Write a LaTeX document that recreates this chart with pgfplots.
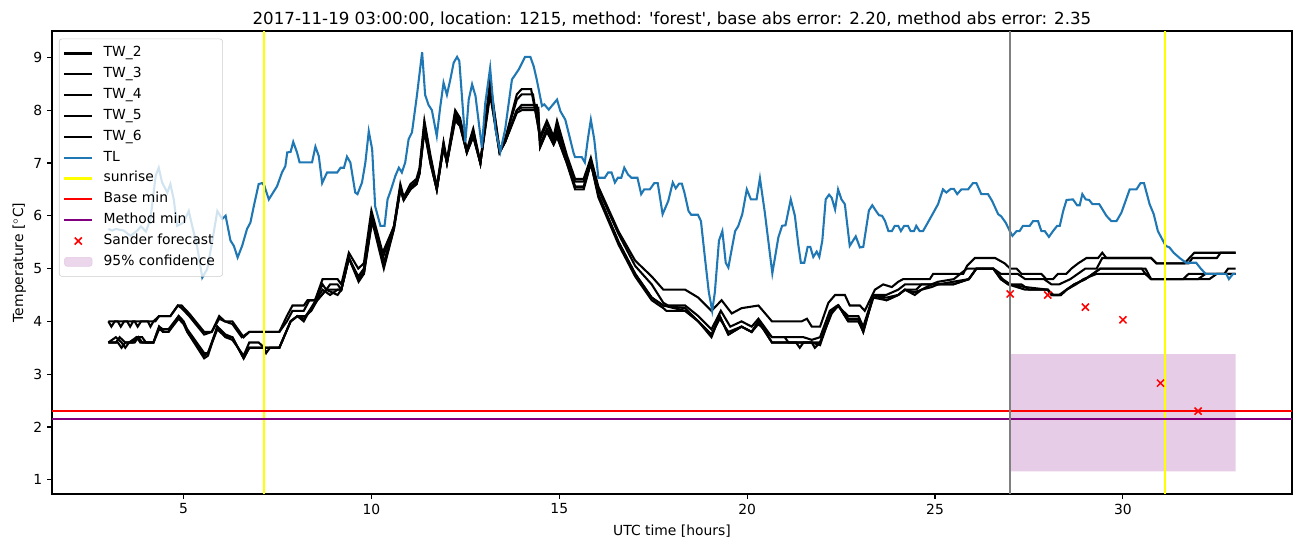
\documentclass[border=0pt]{standalone}
\usepackage{pgfplots}
\pgfplotsset{compat=1.18}
\usepackage{fontspec}
\setmainfont{DejaVu Sans}
\newfontfamily\djv{DejaVu Sans}
\definecolor{tlblue}{RGB}{31,119,180}
\definecolor{mplpurple}{RGB}{128,0,128}
\definecolor{mplgrey}{RGB}{128,128,128}
\definecolor{mplyellow}{RGB}{255,255,0}
\definecolor{confcol}{RGB}{230,204,230}
\definecolor{legframe}{RGB}{204,204,204}
\pgfplotsset{
 linelegend/.style={legend image code/.code={\draw[##1] (0pt,0pt) -- (20pt,0pt);}},
 marklegend/.style={legend image code/.code={\draw[##1] plot coordinates {(10pt,0pt)};}},
 arealegend/.style={legend image code/.code={\fill[confcol] (0pt,-3.25pt) rectangle (20pt,3.25pt);}},
}
\begin{document}
\begin{tikzpicture}
\begin{axis}[
 scale only axis, width=892.8pt, height=333.36pt,
 xmin=1.5, xmax=34.5, ymin=0.73, ymax=9.5,
 xtick={5,10,...,30}, ytick={1,2,...,9},
 tick pos=left, tick align=outside, major tick length=3.5pt,
 tick style={line width=0.8pt, black},
 axis line style={line width=0.8pt},
 /pgf/number format/assume math mode=true,
 ticklabel style={font=\fontsize{10}{12}\selectfont},
 xlabel={UTC time [hours]}, ylabel={Temperature [$^\circ$C]},
 xlabel style={font=\fontsize{10}{12}\selectfont, at={(axis description cs:0.5,-0.0888)}, anchor=base},
 ylabel style={font=\fontsize{10}{12}\selectfont, at={(axis description cs:-0.0233,0.5)}, anchor=base, rotate=0},
 title={\djv 2017-11-19 03:00:00, location: 1215, method: 'forest', base abs error: 2.20, method abs error: 2.35},
 title style={font=\fontsize{12}{14}\selectfont, at={(axis description cs:0.5,1)}, anchor=base, yshift=-1pt},
 legend cell align=left,
 linelegend,
 legend style={at={(axis description cs:0,1)}, anchor=north west, xshift=5pt, yshift=-5.5pt,
   draw=legframe, fill=white, fill opacity=0.8, draw opacity=1, text opacity=1,
   rounded corners=2pt, font=\fontsize{10}{12}\selectfont,
   nodes={text height=7.5pt, text depth=2.5pt, inner sep=2.5pt},
   inner xsep=3pt, inner ysep=3pt, column sep=5pt},
]
% 95% confidence region (drawn first)
\addplot[draw=none, fill=confcol, forget plot] coordinates {(27,1.16) (33,1.16) (33,3.38) (27,3.38) (27,1.16)};

% TW_2
\addplot[black, line width=1.5pt] coordinates {
(3.0,4.0)(3.25,4.0)(3.33,3.9)(3.42,4.0)(3.7,4.0)(3.78,3.9)(3.87,4.0)(4.25,4.0)(4.35,4.1)(4.65,4.1)(4.85,4.3)(4.95,4.3)(5.15,4.15)(5.55,3.8)(5.75,3.8)(5.95,4.1)(6.1,4.0)(6.3,4.0)(6.5,3.8)(6.6,3.7)(6.75,3.8)(7.55,3.8)(7.75,4.1)(7.9,4.3)(8.2,4.3)(8.3,4.4)(8.5,4.4)(8.7,4.8)(9.1,4.8)(9.2,4.7)(9.4,5.3)(9.65,5.0)(9.8,5.1)(10.0,6.1)(10.3,5.3)(10.6,5.8)(10.77,6.6)(10.86,6.35)(11.04,6.6)(11.2,6.7)(11.28,6.9)(11.41,7.8)(11.57,7.15)(11.74,6.55)(11.92,7.4)(12.01,7.05)(12.23,8.0)(12.36,7.85)(12.54,7.25)(12.71,7.65)(12.9,7.0)(13.16,8.55)(13.41,7.25)(13.56,7.45)(13.87,8.3)(14.0,8.4)(14.25,8.4)(14.49,7.5)(14.67,7.8)(14.85,7.5)(14.94,7.8)(15.2,7.15)(15.42,6.7)(15.65,6.7)(15.84,7.1)(16.04,6.55)(16.58,5.7)(17.02,5.15)(17.46,4.85)(17.77,4.6)(18.35,4.6)(18.7,4.45)(19.05,4.2)(19.32,4.4)(19.59,4.15)(19.85,4.25)(20.3,4.3)(20.66,4.0)(21.45,4.0)(21.59,4.05)(21.72,3.9)(21.94,3.9)(22.16,4.35)(22.34,4.5)(22.6,4.5)(22.73,4.3)(23.0,4.3)(23.13,4.2)(23.4,4.6)(23.62,4.7)(23.85,4.65)(24.02,4.75)(24.15,4.8)(24.86,4.8)(24.95,4.9)(25.75,4.9)(25.85,5.05)(26.06,5.2)(26.6,5.2)(26.85,5.1)(27.0,5.0)(27.17,5.0)(27.3,4.9)(27.83,4.9)(27.96,4.8)(28.14,4.8)(28.27,4.9)(28.49,4.9)(28.63,5.0)(28.81,5.1)(29.03,5.2)(29.34,5.2)(29.45,5.3)(29.56,5.2)(30.75,5.2)(30.89,5.1)(31.64,5.1)(31.77,5.2)(31.9,5.3)(33.0,5.3)};
\addlegendentry{TW\_2}
% TW_3
\addplot[black, line width=1.5pt] coordinates {
(3.0,4.0)(3.08,3.9)(3.17,4.0)(3.5,4.0)(3.58,3.9)(3.66,4.0)(4.05,4.0)(4.12,3.9)(4.2,4.0)(4.35,4.1)(4.65,4.1)(4.85,4.3)(4.95,4.25)(5.15,4.1)(5.55,3.75)(5.75,3.8)(5.95,4.05)(6.1,4.0)(6.3,3.95)(6.55,3.7)(6.75,3.8)(7.55,3.8)(7.75,4.0)(7.9,4.2)(8.2,4.2)(8.35,4.4)(8.5,4.4)(8.7,4.7)(8.8,4.6)(8.9,4.7)(9.1,4.7)(9.2,4.6)(9.4,5.2)(9.65,4.85)(9.8,5.0)(10.0,6.0)(10.3,5.2)(10.6,5.8)(10.77,6.5)(10.86,6.35)(11.04,6.55)(11.2,6.65)(11.28,6.85)(11.41,7.75)(11.57,7.1)(11.74,6.5)(11.92,7.35)(12.01,7.0)(12.23,7.95)(12.36,7.8)(12.54,7.2)(12.71,7.6)(12.9,7.0)(13.16,8.5)(13.41,7.25)(13.56,7.45)(13.87,8.2)(14.0,8.3)(14.3,8.3)(14.49,7.45)(14.67,7.75)(14.85,7.45)(14.94,7.7)(15.2,7.1)(15.42,6.65)(15.65,6.65)(15.84,7.05)(16.04,6.5)(16.58,5.65)(17.02,5.05)(17.46,4.7)(17.77,4.35)(17.9,4.3)(18.35,4.3)(18.7,4.1)(19.05,3.85)(19.3,4.2)(19.55,3.9)(19.85,4.0)(20.12,3.9)(20.3,4.05)(20.66,3.7)(21.5,3.7)(21.72,3.65)(21.94,3.7)(22.2,4.2)(22.4,4.3)(22.69,4.1)(22.96,4.1)(23.09,3.9)(23.36,4.5)(23.7,4.5)(24.02,4.6)(24.2,4.7)(24.9,4.7)(25.08,4.75)(25.5,4.8)(25.85,5.0)(26.55,5.0)(26.75,4.9)(27.2,4.9)(27.4,4.8)(27.9,4.8)(28.1,4.7)(28.3,4.7)(28.6,4.8)(28.8,4.9)(29.0,5.0)(29.3,5.0)(29.45,5.2)(30.75,5.2)(30.89,5.1)(31.75,5.1)(31.85,5.2)(32.5,5.2)(32.6,5.3)(33.0,5.3)};
\addlegendentry{TW\_3}
% TW_4
\addplot[black, line width=1.5pt] coordinates {
(3.0,3.6)(3.2,3.7)(3.35,3.6)(3.45,3.5)(3.55,3.6)(3.75,3.7)(3.85,3.6)(4.2,3.6)(4.35,3.9)(4.45,3.8)(4.6,3.8)(4.87,4.1)(5.0,4.0)(5.1,3.8)(5.55,3.3)(5.65,3.35)(5.9,3.9)(6.12,3.7)(6.3,3.7)(6.6,3.3)(6.75,3.5)(7.15,3.5)(7.2,3.4)(7.3,3.5)(7.55,3.5)(7.85,4.0)(8.03,4.1)(8.2,4.0)(8.35,4.2)(8.56,4.4)(8.8,4.6)(9.1,4.5)(9.2,4.6)(9.4,5.2)(9.66,4.75)(9.8,4.9)(10.02,5.9)(10.33,5.0)(10.6,5.75)(10.77,6.5)(10.86,6.3)(11.04,6.5)(11.2,6.6)(11.28,6.8)(11.41,7.6)(11.57,7.0)(11.74,6.5)(11.92,7.3)(12.01,7.0)(12.23,7.8)(12.36,7.7)(12.54,7.2)(12.71,7.5)(12.9,7.0)(13.16,8.3)(13.41,7.2)(13.56,7.4)(13.87,7.95)(14.0,8.0)(14.44,8.0)(14.49,7.3)(14.67,7.6)(14.85,7.35)(14.94,7.5)(15.2,7.0)(15.42,6.5)(15.65,6.5)(15.84,7.0)(16.04,6.35)(16.58,5.45)(17.02,4.85)(17.46,4.4)(17.77,4.25)(17.85,4.2)(18.35,4.2)(18.7,4.0)(19.05,3.7)(19.27,4.1)(19.5,3.75)(19.85,3.9)(20.12,3.8)(20.3,4.0)(20.66,3.6)(21.72,3.6)(21.8,3.5)(21.94,3.6)(22.25,4.2)(22.43,4.3)(22.69,4.0)(22.96,4.0)(23.09,3.8)(23.36,4.5)(23.71,4.4)(24.02,4.5)(24.2,4.6)(24.46,4.5)(24.64,4.6)(24.91,4.65)(25.08,4.7)(25.48,4.75)(25.9,4.8)(26.1,5.0)(26.55,5.0)(26.75,4.8)(26.95,4.7)(27.4,4.6)(28.0,4.6)(28.1,4.5)(28.35,4.5)(28.5,4.6)(28.7,4.7)(29.0,4.8)(29.2,4.9)(29.4,5.0)(30.6,5.0)(30.75,4.8)(31.6,4.8)(31.75,4.9)(32.7,4.9)(32.8,5.0)(33.0,5.0)};
\addlegendentry{TW\_4}
% TW_5
\addplot[black, line width=1.5pt] coordinates {
(3.0,3.6)(3.2,3.6)(3.3,3.7)(3.45,3.6)(3.65,3.6)(3.75,3.7)(3.9,3.7)(4.0,3.6)(4.2,3.6)(4.35,3.85)(4.5,3.8)(4.6,3.8)(4.87,4.05)(5.0,3.95)(5.1,3.8)(5.55,3.35)(5.65,3.4)(5.9,3.85)(6.12,3.7)(6.3,3.65)(6.6,3.35)(6.75,3.6)(7.0,3.6)(7.15,3.5)(7.55,3.5)(7.85,4.0)(8.03,4.1)(8.25,4.1)(8.4,4.2)(8.56,4.4)(8.8,4.6)(9.05,4.6)(9.2,4.6)(9.4,5.2)(9.66,4.8)(9.8,4.95)(10.02,5.95)(10.33,5.1)(10.6,5.8)(10.77,6.55)(10.86,6.3)(11.04,6.55)(11.2,6.6)(11.28,6.8)(11.41,7.7)(11.57,7.05)(11.74,6.5)(11.92,7.35)(12.01,7.0)(12.23,7.9)(12.36,7.75)(12.54,7.2)(12.71,7.55)(12.9,7.0)(13.16,8.4)(13.41,7.2)(13.56,7.4)(13.87,8.0)(14.0,8.1)(14.4,8.1)(14.49,7.35)(14.67,7.65)(14.85,7.4)(14.94,7.6)(15.2,7.05)(15.42,6.55)(15.65,6.55)(15.84,7.0)(16.04,6.4)(16.58,5.5)(17.02,4.9)(17.46,4.45)(17.77,4.3)(18.35,4.2)(18.7,4.0)(19.05,3.75)(19.27,4.05)(19.5,3.8)(19.85,3.9)(20.12,3.8)(20.3,3.95)(20.66,3.7)(21.0,3.7)(21.1,3.6)(21.72,3.6)(21.94,3.6)(22.25,4.15)(22.43,4.3)(22.69,4.0)(22.96,4.0)(23.09,3.85)(23.36,4.45)(23.71,4.4)(24.02,4.5)(24.2,4.6)(24.5,4.6)(24.64,4.7)(25.08,4.7)(25.48,4.7)(25.9,4.8)(26.1,5.0)(26.55,5.0)(26.8,4.8)(27.0,4.7)(27.3,4.7)(27.5,4.6)(28.0,4.6)(28.15,4.5)(28.3,4.5)(28.5,4.6)(28.75,4.7)(28.95,4.8)(29.3,4.9)(30.6,4.9)(30.75,4.8)(32.0,4.8)(32.2,4.9)(33.0,4.9)};
\addlegendentry{TW\_5}
% TW_6
\addplot[black, line width=1.5pt] coordinates {
(3.0,3.6)(3.25,3.6)(3.35,3.5)(3.45,3.6)(3.7,3.6)(3.8,3.7)(3.9,3.6)(4.2,3.6)(4.35,3.9)(4.45,3.85)(4.6,3.85)(4.87,4.1)(5.0,4.0)(5.1,3.85)(5.55,3.4)(5.65,3.4)(5.9,3.9)(6.12,3.75)(6.3,3.7)(6.6,3.3)(6.75,3.5)(7.15,3.5)(7.55,3.5)(7.85,4.0)(8.03,4.1)(8.2,4.05)(8.35,4.2)(8.56,4.45)(8.7,4.6)(8.9,4.5)(9.1,4.6)(9.2,4.6)(9.4,5.2)(9.66,4.8)(9.8,4.9)(10.02,5.95)(10.33,5.05)(10.6,5.75)(10.77,6.5)(10.86,6.3)(11.04,6.5)(11.2,6.6)(11.28,6.8)(11.41,7.65)(11.57,7.0)(11.74,6.5)(11.92,7.3)(12.01,7.0)(12.23,7.85)(12.36,7.7)(12.54,7.2)(12.71,7.5)(12.9,7.0)(13.16,8.35)(13.41,7.2)(13.56,7.4)(13.87,8.0)(14.0,8.05)(14.44,8.05)(14.49,7.3)(14.67,7.6)(14.85,7.35)(14.94,7.5)(15.2,7.0)(15.42,6.55)(15.65,6.55)(15.84,7.0)(16.04,6.4)(16.58,5.5)(17.02,4.9)(17.46,4.45)(17.77,4.3)(18.35,4.25)(18.7,4.0)(19.05,3.75)(19.27,4.1)(19.5,3.75)(19.85,3.9)(20.12,3.8)(20.3,4.0)(20.66,3.6)(21.3,3.6)(21.4,3.5)(21.5,3.6)(21.72,3.6)(21.94,3.55)(22.25,4.2)(22.43,4.3)(22.69,4.05)(22.96,4.05)(23.09,3.8)(23.36,4.5)(23.71,4.45)(24.02,4.5)(24.2,4.6)(24.46,4.55)(24.64,4.6)(24.91,4.7)(25.48,4.7)(25.9,4.8)(26.1,5.0)(26.55,5.0)(26.75,4.8)(26.95,4.7)(27.4,4.65)(28.0,4.6)(28.1,4.5)(28.35,4.5)(28.5,4.6)(28.7,4.7)(29.0,4.8)(29.2,4.9)(29.4,5.0)(30.5,5.0)(30.6,4.9)(30.75,4.8)(32.3,4.8)(32.5,4.9)(33.0,4.9)};
\addlegendentry{TW\_6}
% TL
\addplot[tlblue, line width=1.5pt] coordinates {
(3.0,5.75)(3.1,5.72)(3.2,5.75)(3.41,5.72)(3.59,5.62)(3.77,5.72)(3.87,5.8)(4.0,5.7)(4.12,5.94)(4.26,6.76)(4.34,6.91)(4.43,6.63)(4.57,6.44)(4.65,6.6)(4.74,6.31)(4.83,5.81)(5.0,5.87)(5.14,6.09)(5.23,5.81)(5.36,5.43)(5.5,4.83)(5.63,4.99)(5.76,5.5)(5.9,6.09)(6.03,5.94)(6.12,6.0)(6.25,5.53)(6.34,5.43)(6.44,5.21)(6.56,5.43)(6.69,5.75)(6.78,5.87)(6.87,6.18)(7.0,6.6)(7.09,6.62)(7.15,6.57)(7.27,6.31)(7.49,6.56)(7.62,6.82)(7.71,6.94)(7.76,7.2)(7.85,7.21)(7.92,7.4)(8.02,7.2)(8.09,7.01)(8.42,7.01)(8.51,7.31)(8.6,7.13)(8.69,6.62)(8.82,6.82)(9.09,6.82)(9.18,6.91)(9.27,6.91)(9.35,7.12)(9.44,7.01)(9.57,6.44)(9.63,6.41)(9.75,6.63)(9.84,7.01)(9.93,7.6)(10.02,7.26)(10.1,6.18)(10.24,5.81)(10.35,5.81)(10.43,6.31)(10.52,6.49)(10.64,6.76)(10.73,6.91)(10.81,6.82)(10.9,7.01)(10.99,7.45)(11.08,7.58)(11.21,8.27)(11.35,9.1)(11.43,8.29)(11.52,8.1)(11.61,8.0)(11.74,7.51)(11.83,8.05)(11.92,8.52)(12.01,8.29)(12.1,8.58)(12.19,8.9)(12.28,9.01)(12.34,8.93)(12.5,7.39)(12.59,8.2)(12.68,8.49)(12.77,8.27)(12.94,7.29)(13.03,8.13)(13.16,8.8)(13.3,7.64)(13.43,7.21)(13.56,7.64)(13.74,8.58)(13.92,8.77)(14.09,9.01)(14.23,9.01)(14.32,8.83)(14.4,8.58)(14.54,8.08)(14.6,8.11)(14.72,8.01)(14.8,8.08)(14.94,8.2)(15.03,7.98)(15.16,7.82)(15.29,7.45)(15.38,7.19)(15.42,7.11)(15.6,7.11)(15.68,7.01)(15.76,7.45)(15.84,7.82)(15.93,7.45)(16.04,6.72)(16.21,6.72)(16.3,6.82)(16.39,6.82)(16.48,6.63)(16.56,6.72)(16.65,6.72)(16.73,6.91)(16.83,6.78)(16.92,6.72)(17.08,6.72)(17.18,6.41)(17.26,6.5)(17.41,6.5)(17.53,6.62)(17.62,6.62)(17.75,6.03)(17.9,6.28)(18.02,6.63)(18.1,6.52)(18.19,6.61)(18.26,6.61)(18.33,6.44)(18.44,6.09)(18.51,6.02)(18.69,6.02)(18.77,5.9)(18.88,5.18)(18.98,4.55)(19.07,4.2)(19.14,4.55)(19.25,5.53)(19.34,5.71)(19.43,5.11)(19.5,5.02)(19.59,5.37)(19.68,5.71)(19.76,5.8)(19.87,6.03)(19.99,6.5)(20.1,6.31)(20.25,6.31)(20.34,6.71)(20.47,6.06)(20.67,4.91)(20.83,5.59)(20.93,5.81)(21.02,5.82)(21.16,6.31)(21.27,6.0)(21.36,5.46)(21.43,5.11)(21.52,5.11)(21.61,5.41)(21.68,5.41)(21.76,5.22)(21.85,5.32)(21.92,5.22)(22.0,5.53)(22.09,6.31)(22.18,6.4)(22.25,6.34)(22.34,6.12)(22.42,6.5)(22.51,6.31)(22.6,6.22)(22.73,5.43)(22.89,5.61)(23.0,5.4)(23.09,5.41)(23.24,6.1)(23.33,6.2)(23.42,6.1)(23.51,6.01)(23.59,6.0)(23.67,5.9)(23.76,5.71)(23.85,5.71)(23.93,5.81)(24.02,5.81)(24.09,5.71)(24.18,5.81)(24.28,5.81)(24.35,5.71)(24.44,5.71)(24.5,5.81)(24.59,5.71)(24.68,5.71)(24.91,6.0)(25.08,6.22)(25.21,6.5)(25.3,6.44)(25.42,6.51)(25.5,6.51)(25.59,6.41)(25.7,6.5)(25.88,6.5)(26.01,6.62)(26.1,6.62)(26.23,6.41)(26.41,6.41)(26.52,6.28)(26.68,6.03)(26.76,5.99)(26.88,5.87)(26.99,5.71)(27.06,5.62)(27.17,5.71)(27.25,5.71)(27.34,5.81)(27.52,5.81)(27.61,5.9)(27.74,5.9)(27.83,5.71)(27.92,5.71)(28.03,5.6)(28.14,5.71)(28.25,5.81)(28.32,5.81)(28.41,6.09)(28.5,6.3)(28.67,6.31)(28.78,6.2)(28.85,6.2)(28.92,6.41)(29.01,6.31)(29.1,6.3)(29.19,6.22)(29.37,6.22)(29.56,6.0)(29.69,5.9)(29.83,5.9)(29.96,6.06)(30.18,6.5)(30.36,6.5)(30.47,6.62)(30.56,6.62)(30.71,6.22)(30.82,6.03)(30.93,5.71)(31.14,5.43)(31.24,5.4)(31.35,5.3)(31.51,5.2)(31.68,5.11)(31.95,5.11)(32.06,5.01)(32.2,4.9)(32.75,4.9)(32.82,4.8)(32.93,4.9)(33.0,4.9)};
\addlegendentry{TL}
% sunrise
\addplot[mplyellow, line width=1.5pt] coordinates {(7.13,0.73)(7.13,9.5)};
\addlegendentry{sunrise}
\addplot[mplyellow, line width=1.5pt, forget plot] coordinates {(31.13,0.73)(31.13,9.5)};
% base / method min
\addplot[red, line width=1.5pt] coordinates {(1.5,2.3)(34.5,2.3)};
\addlegendentry{Base min}
\addplot[mplpurple, line width=1.5pt] coordinates {(1.5,2.15)(34.5,2.15)};
\addlegendentry{Method min}
% forecast start
\addplot[mplgrey, line width=1.5pt, forget plot] coordinates {(27,0.73)(27,9.5)};
% Sander forecast
\addplot[only marks, mark=x, red, mark size=3.6pt, mark options={line width=1.1pt}, marklegend]
  coordinates {(27,4.52)(28,4.5)(29,4.27)(30,4.03)(31,2.83)(32,2.3)};
\addlegendentry{Sander forecast}
\addlegendimage{arealegend}
\addlegendentry{95\% confidence}
\end{axis}
\pgfresetboundingbox
\path ([shift={(-37.44pt,-38.16pt)}]current axis.south west) rectangle ([shift={(7.2pt,22.32pt)}]current axis.north east);
\end{tikzpicture}
\end{document}
